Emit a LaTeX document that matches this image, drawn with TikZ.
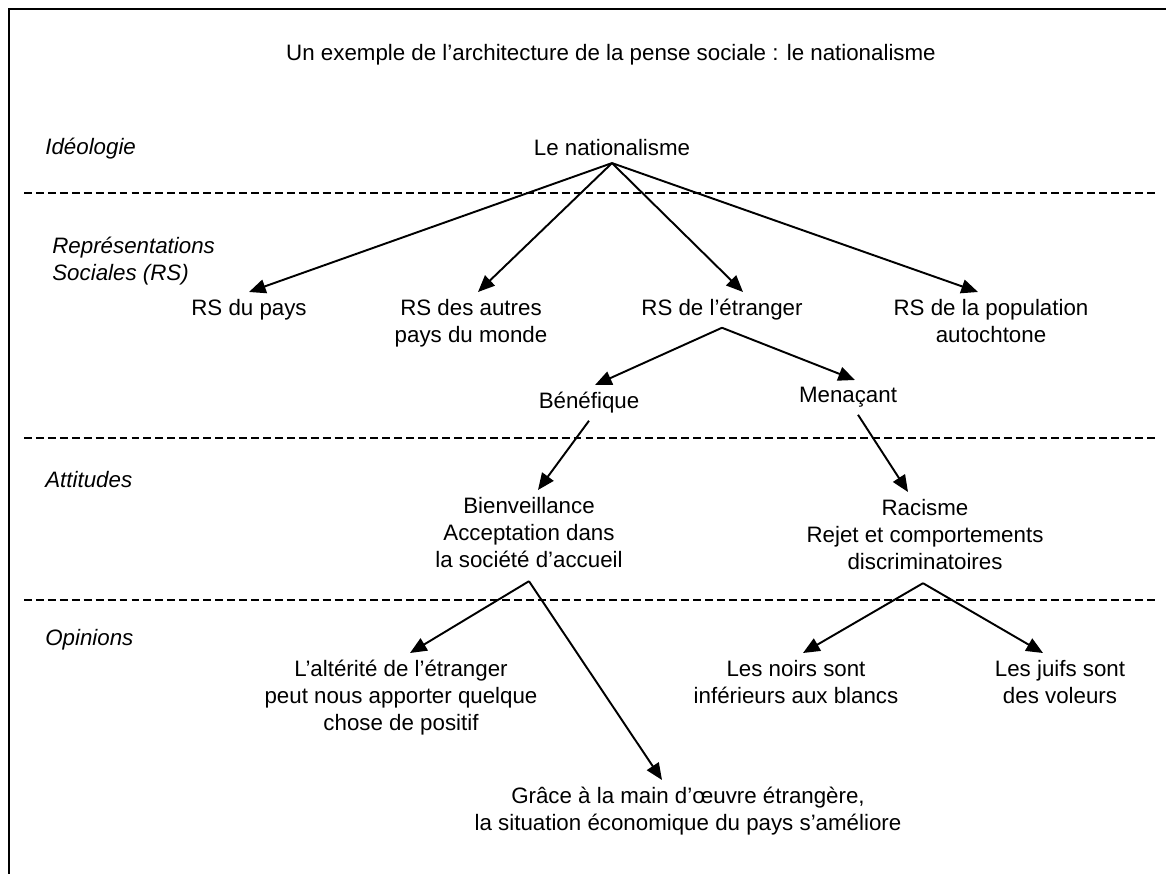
\documentclass[tikz,border=0pt]{standalone}
\usepackage{fontspec}
\setmainfont{Liberation Sans}
\usetikzlibrary{arrows.meta, calc}

\begin{document}
\begin{tikzpicture}[x=0.02cm, y=-0.02cm,
  texte/.style={anchor=north, align=center, inner sep=0.14cm, font=\fontsize{12.7}{15.4}\selectfont},
  niveau/.style={anchor=base west, align=left, inner sep=0pt, font=\fontsize{12.7}{15.4}\selectfont\itshape},
  fleche/.style={-{Triangle[length=9.5pt, width=8pt]}, line width=1.1pt},
  separation/.style={dash pattern=on 4.5pt off 2.3pt, line width=1.1pt}]
  \useasboundingbox (0,0) rectangle (1166,874);

  % cadre
  \draw[line width=1.4pt] (9,874) -- (9,9) -- (1166,9);

  % titre
  \node[anchor=base, inner sep=0pt, font=\fontsize{12.7}{15.4}\selectfont] (titre) at (611,61)
    {Un exemple de l’architecture de la pense sociale : le nationalisme};

  % niveaux
  \node[niveau] (ideo) at (45,155) {Idéologie};
  \node[niveau, anchor=north west] (rep) at (52,237) {Représentations\\Sociales (RS)};
  \node[niveau] (attit) at (45,488) {Attitudes};
  \node[niveau] (opin) at (45,645) {Opinions};

  \draw[separation] (24,193) -- (1157,193);
  \draw[separation] (24,438) -- (1157,438);
  \draw[separation] (24,600) -- (1157,600);

  % ideologie et RS
  \node[texte] (nat) at (612,132) {Le nationalisme};
  \node[texte] (pays) at (249,292) {RS du pays};
  \node[texte] (autres) at (471,292) {RS des autres\\pays du monde};
  \node[texte] (etranger) at (722,292) {RS de l’étranger};
  \node[texte] (popu) at (991,292) {RS de la population\\autochtone};
  \node[texte] (benef) at (589,385) {Bénéfique};
  \node[texte] (menac) at (848,380) {Menaçant};

  % attitudes
  \node[texte] (bienv) at (529,490) {Bienveillance\\Acceptation dans\\la société d’accueil};
  \node[texte] (racisme) at (925,492) {Racisme\\Rejet et comportements\\discriminatoires};

  % opinions
  \node[texte] (alter) at (401,653) {L’altérité de l’étranger\\peut nous apporter quelque\\chose de positif};
  \node[texte] (noirs) at (796,653) {Les noirs sont\\inférieurs aux blancs};
  \node[texte] (juifs) at (1060,653) {Les juifs sont\\des voleurs};
  \node[texte] (grace) at (688,780) {Grâce à la main d’œuvre étrangère,\\la situation économique du pays s’améliore};

  % fleches
  \draw[fleche] (nat.south) -- (pays.north);
  \draw[fleche] (nat.south) -- ($(autres.north)+(7,0)$);
  \draw[fleche] (nat.south) -- ($(etranger.north)+(21,0)$);
  \draw[fleche] (nat.south) -- ($(popu.north)+(-13,0)$);
  \draw[fleche] (etranger.south) -- ($(benef.north)+(6,0)$);
  \draw[fleche] (etranger.south) -- ($(menac.north)+(7,0)$);
  \draw[fleche] (benef.south) -- ($(bienv.north)+(9,0)$);
  \draw[fleche] ($(menac.south)+(10,0)$) -- ($(racisme.north)+(-17,0)$);
  \draw[fleche] ($(bienv.south)+(0,6)$) -- ($(alter.north)+(9,0)$);
  \draw[fleche] ($(bienv.south)+(0,6)$) -- ($(grace.north)+(-26,0)$);
  \draw[fleche] ($(racisme.south)+(-2,6)$) -- ($(noirs.north)+(7,0)$);
  \draw[fleche] ($(racisme.south)+(-2,6)$) -- ($(juifs.north)+(-17,0)$);
\end{tikzpicture}
\end{document}
